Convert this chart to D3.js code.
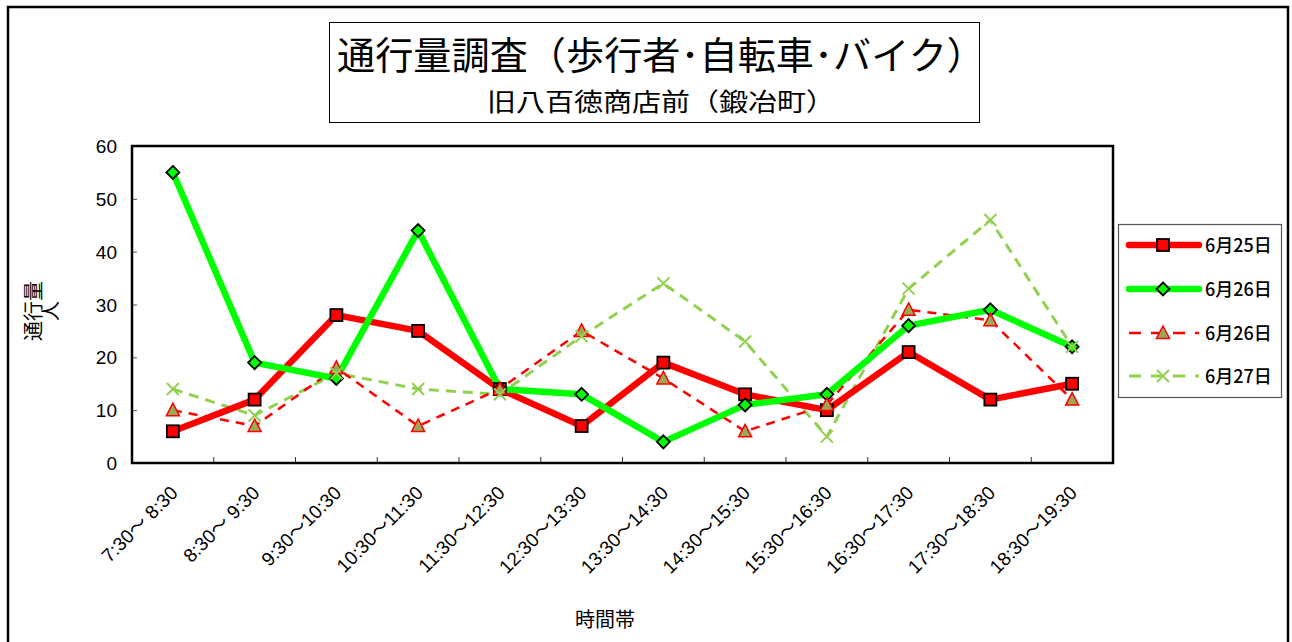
<!DOCTYPE html>
<html><head><meta charset="utf-8">
<script src="https://cdn.jsdelivr.net/npm/d3@7"></script>
<style>
html,body{margin:0;padding:0;background:#fff;}
svg{display:block;}
</style></head>
<body><svg id="c" width="1292" height="642"></svg>
<script>
const categories = ["7:30～ 8:30","8:30～ 9:30","9:30～10:30","10:30～11:30","11:30～12:30","12:30～13:30","13:30～14:30","14:30～15:30","15:30～16:30","16:30～17:30","17:30～18:30","18:30～19:30"];
const seriesNames = ["6月25日","6月26日","6月26日","6月27日"];
const s0625 = [6,12,28,25,14,7,19,13,10,21,12,15];
const s0626a = [55,19,16,44,14,13,4,11,13,26,29,22];
const s0626b = [10,7,18,7,14,25,16,6,11,29,27,12];
const s0627 = [14,9,17,14,13,24,34,23,5,33,46,22];
const yTicks = [0,10,20,30,40,50,60];
const titleText = "通行量調査（歩行者･自転車･バイク）";
const subtitleText = "旧八百徳商店前（鍛冶町）";
const yTitle = ["通行量","人"];
const xTitle = "時間帯";

const JP = "'Noto Sans CJK JP','Noto Sans',sans-serif";
const NUM = "'Liberation Sans',Arial,sans-serif";

const svg = d3.select("#c");
svg.append("path").attr("d","M8,645 L8,7 L1288,7 L1288,645").attr("fill","none").attr("stroke","#000").attr("stroke-width",2.5);

svg.append("rect").attr("x",329.5).attr("y",22.5).attr("width",650).attr("height",100).attr("fill","#fff").attr("stroke","#000").attr("stroke-width",1);
svg.append("text").attr("x",337).attr("y",69).attr("font-family",JP).attr("font-size",38).attr("textLength",648).attr("lengthAdjust","spacingAndGlyphs").text(titleText);
svg.append("text").attr("x",487).attr("y",111).attr("font-family",JP).attr("font-size",25).attr("textLength",348).attr("lengthAdjust","spacingAndGlyphs").text(subtitleText);

const L=132,R=1113,T=146,B=463;
const x = d3.scaleBand().domain(categories).range([L,R]);
const y = d3.scaleLinear().domain([0,60]).range([B,T]);
const cx = c => x(c)+x.bandwidth()/2;

const yAx = svg.append("g").attr("transform",`translate(${L},0)`).call(d3.axisRight(y).tickValues(yTicks).tickSize(5).tickFormat(""));
yAx.select(".domain").remove();
yAx.selectAll("line").attr("stroke","#555");
svg.append("g").selectAll("text").data(yTicks).join("text")
  .attr("x",117).attr("y",d=>y(d)+7).attr("text-anchor","end")
  .attr("font-family",NUM).attr("font-size",19).text(d=>d);

const bounds = categories.map(c=>x(c)).concat([R]);
svg.append("g").selectAll("line").data(bounds.slice(1,-1)).join("line")
  .attr("x1",d=>d).attr("x2",d=>d).attr("y1",B).attr("y2",B-6).attr("stroke","#333").attr("stroke-width",1);
const xl = svg.append("g").selectAll("text").data(categories).join("text")
  .attr("transform",c=>`translate(${cx(c)+6},${B+31}) rotate(-45)`)
  .attr("text-anchor","end").attr("font-family",NUM).attr("font-size",19);
xl.each(function(c){
  const parts=c.split("～");
  const t=d3.select(this);
  t.append("tspan").text(parts[0]);
  t.append("tspan").attr("font-family",JP).text("～");
  t.append("tspan").text(parts[1]);
});

svg.append("rect").attr("x",L).attr("y",T).attr("width",R-L).attr("height",B-T).attr("fill","none").attr("stroke","#000").attr("stroke-width",2.5);

const yt = svg.append("text").attr("transform","translate(0,311) rotate(-90)").attr("text-anchor","middle").attr("font-family",JP).attr("font-size",20);
yt.append("tspan").attr("x",0).attr("y",41).text(yTitle[0]);
yt.append("tspan").attr("x",0).attr("y",58).text(yTitle[1]);
svg.append("text").attr("x",605).attr("y",627).attr("text-anchor","middle").attr("font-family",JP).attr("font-size",20).text(xTitle);

const line = d3.line().x((d,i)=>cx(categories[i])).y(d=>y(d));
const series = [
  {name:seriesNames[0],data:s0625,color:"#FF0000",w:6.5,dash:null,marker:"square"},
  {name:seriesNames[1],data:s0626a,color:"#00FF00",w:6.5,dash:null,marker:"diamond"},
  {name:seriesNames[2],data:s0626b,color:"#FF0000",w:2.5,dash:"9,7",marker:"triangle"},
  {name:seriesNames[3],data:s0627,color:"#92D050",w:3,dash:"10,7",marker:"x"}
];
function drawMarker(g,type,px,py){
  if(type==="square"){
    g.append("rect").attr("x",px-6).attr("y",py-6).attr("width",12).attr("height",12).attr("fill","#FF0000").attr("stroke","#000").attr("stroke-width",1.8);
  } else if(type==="diamond"){
    g.append("path").attr("d",`M${px},${py-6.5}L${px+6.5},${py}L${px},${py+6.5}L${px-6.5},${py}Z`).attr("fill","#00FF00").attr("stroke","#000").attr("stroke-width",1.8);
  } else if(type==="triangle"){
    g.append("path").attr("d",`M${px},${py-7}L${px+6.5},${py+5.5}L${px-6.5},${py+5.5}Z`).attr("fill","#9BA857").attr("stroke","#FF0000").attr("stroke-width",1.5);
  } else {
    g.append("path").attr("d",`M${px-6},${py-6}L${px+6},${py+6}M${px+6},${py-6}L${px-6},${py+6}`).attr("stroke","#92D050").attr("stroke-width",2);
  }
}
const gl = svg.append("g");
[3,2,0,1].forEach(k=>{
  const s=series[k];
  gl.append("path").attr("d",line(s.data)).attr("fill","none").attr("stroke",s.color).attr("stroke-width",s.w)
    .attr("stroke-dasharray",s.dash).attr("stroke-linejoin","round");
});
[0,1,2,3].forEach(k=>{
  const s=series[k]; const g=svg.append("g");
  s.data.forEach((v,i)=>drawMarker(g,s.marker,cx(categories[i]),y(v)));
});

svg.append("rect").attr("x",1118.5).attr("y",224.5).attr("width",163).attr("height",173).attr("fill","#fff").attr("stroke","#555").attr("stroke-width",1.2);
const ly=[245,289,333,376];
series.forEach((s,k)=>{
  const g=svg.append("g");
  g.append("line").attr("x1",1129).attr("x2",1199).attr("y1",ly[k]).attr("y2",ly[k]).attr("stroke",s.color).attr("stroke-width",s.w)
   .attr("stroke-dasharray",s.dash?"12,10":null).attr("stroke-linecap",s.dash?"butt":"round");
  drawMarker(g,s.marker,1163,ly[k]);
  g.append("text").attr("x",1205).attr("y",ly[k]+7).attr("font-family",JP).attr("font-weight",500).attr("font-size",18).text(s.name);
});
</script></body></html>
